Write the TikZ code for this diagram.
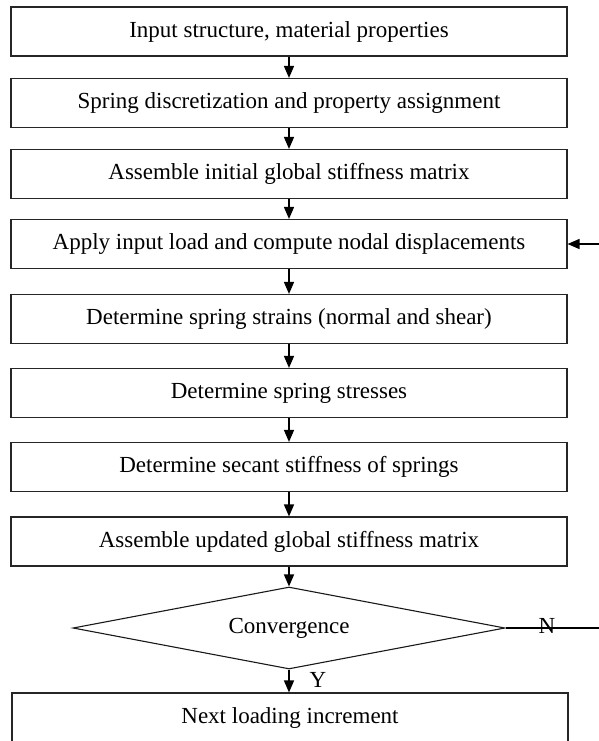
\documentclass[tikz,border=0pt]{standalone}
\usepackage{fontspec}
\setmainfont{Liberation Serif}
\usetikzlibrary{arrows.meta,positioning,shapes.geometric}

\begin{document}
\begin{tikzpicture}[x=0.5pt,y=-0.5pt,
  stepbox/.style={draw=black!85,line width=0.55pt,minimum width=278pt,minimum height=24.5pt,inner sep=0pt,font=\fontsize{11.5}{13}\selectfont},
  decision/.style={draw=black!90,line width=0.55pt,diamond,aspect=5,inner sep=0pt,minimum width=216pt,minimum height=41pt,font=\fontsize{11.5}{13}\selectfont},
  flow/.style={-{Triangle[length=6pt,width=5pt]},line width=0.7pt},
  tag/.style={font=\fontsize{11.5}{13}\selectfont,inner sep=0pt}]
\useasboundingbox (0,0) rectangle (599,741);
\node[stepbox] (s1) at (289,31.5) {Input structure, material properties};
\node[stepbox] (s2) at (289,103) {Spring discretization and property assignment};
\node[stepbox] (s3) at (289,174) {Assemble initial global stiffness matrix};
\node[stepbox] (s4) at (289,244) {Apply input load and compute nodal displacements};
\node[stepbox] (s5) at (289,319) {Determine spring strains (normal and shear)};
\node[stepbox] (s6) at (289,393) {Determine spring stresses};
\node[stepbox] (s7) at (289,467) {Determine secant stiffness of springs};
\node[stepbox] (s8) at (289,541.5) {Assemble updated global stiffness matrix};
\node[decision] (conv) at (289,628) {Convergence};
\node[stepbox] (s9) at (290,717.5) {Next loading increment};
\coordinate (loop) at (610,628);
\draw[flow] (s1) -- (s2);
\draw[flow] (s2) -- (s3);
\draw[flow] (s3) -- (s4);
\draw[flow] (s4) -- (s5);
\draw[flow] (s5) -- (s6);
\draw[flow] (s6) -- (s7);
\draw[flow] (s7) -- (s8);
\draw[flow] (s8) -- (conv);
\draw[flow] (conv.south) -- (conv.south |- s9.north);
\draw[flow] (conv.east) -- (loop) |- (s4.east);
\node[tag] (ylab) at (318,680) {Y};
\node[tag] (nlab) at (547,626) {N};
\end{tikzpicture}
\end{document}
